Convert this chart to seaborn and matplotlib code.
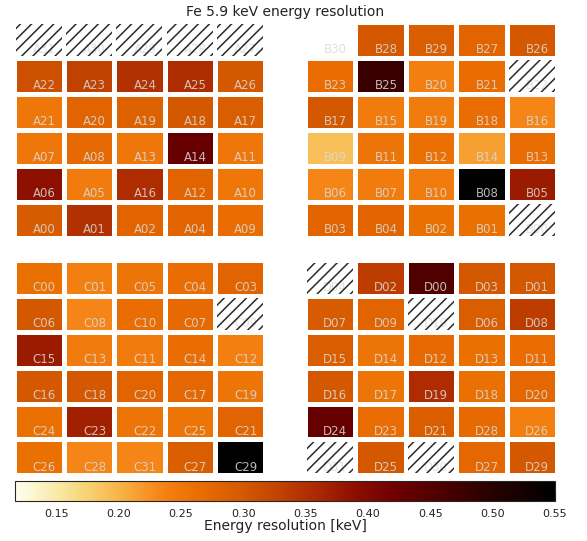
import numpy as np
import pandas as pd
import matplotlib
matplotlib.use("Agg")
import matplotlib.pyplot as plt
import seaborn as sns
from matplotlib.patches import Rectangle
from matplotlib.cm import ScalarMappable
from matplotlib.colors import Normalize, LinearSegmentedColormap
from matplotlib.ticker import MultipleLocator

nan = np.nan

# ---- data (rows top -> bottom, columns left -> right) ----
labels_A = [["A31", "A30", "A29", "A28", "A27"],
            ["A22", "A23", "A24", "A25", "A26"],
            ["A21", "A20", "A19", "A18", "A17"],
            ["A07", "A08", "A13", "A14", "A11"],
            ["A06", "A05", "A16", "A12", "A10"],
            ["A00", "A01", "A02", "A04", "A09"]]
values_A = [[nan, nan, nan, nan, nan],
            [0.31, 0.33, 0.35, 0.355, 0.30],
            [0.25, 0.28, 0.285, 0.30, 0.29],
            [0.25, 0.27, 0.25, 0.43, 0.25],
            [0.39, 0.245, 0.355, 0.28, 0.25],
            [0.295, 0.35, 0.28, 0.28, 0.265]]

labels_B = [["B30", "B28", "B29", "B27", "B26"],
            ["B23", "B25", "B20", "B21", "B22"],
            ["B17", "B15", "B19", "B18", "B16"],
            ["B09", "B11", "B12", "B14", "B13"],
            ["B06", "B07", "B10", "B08", "B05"],
            ["B03", "B04", "B02", "B01", "B00"]]
values_B = [[0.11, 0.30, 0.29, 0.28, 0.30],
            [0.265, 0.48, 0.24, 0.265, nan],
            [0.30, 0.245, 0.245, 0.265, 0.235],
            [0.19, 0.255, 0.26, 0.215, 0.265],
            [0.235, 0.245, 0.245, 0.56, 0.375],
            [0.28, 0.28, 0.26, 0.26, nan]]

labels_C = [["C00", "C01", "C05", "C04", "C03"],
            ["C06", "C08", "C10", "C07", "C09"],
            ["C15", "C13", "C11", "C14", "C12"],
            ["C16", "C18", "C20", "C17", "C19"],
            ["C24", "C23", "C22", "C25", "C21"],
            ["C26", "C28", "C31", "C27", "C29"]]
values_C = [[0.26, 0.24, 0.255, 0.265, 0.28],
            [0.30, 0.235, 0.265, 0.27, nan],
            [0.375, 0.245, 0.245, 0.265, 0.24],
            [0.30, 0.30, 0.28, 0.275, 0.255],
            [0.26, 0.37, 0.255, 0.255, 0.28],
            [0.26, 0.235, 0.235, 0.29, 0.56]]

labels_D = [["D04", "D02", "D00", "D03", "D01"],
            ["D07", "D09", "D10", "D06", "D08"],
            ["D15", "D14", "D12", "D13", "D11"],
            ["D16", "D17", "D19", "D18", "D20"],
            ["D24", "D23", "D21", "D28", "D26"],
            ["D31", "D25", "D30", "D27", "D29"]]
values_D = [[nan, 0.335, 0.455, 0.30, 0.30],
            [0.295, 0.28, nan, 0.29, 0.335],
            [0.29, 0.255, 0.27, 0.26, 0.265],
            [0.30, 0.255, 0.355, 0.26, 0.275],
            [0.43, 0.265, 0.29, 0.27, 0.24],
            [nan, 0.30, nan, 0.275, 0.30]]

vmin, vmax = 0.117, 0.55
cbar_ticks = [0.15, 0.20, 0.25, 0.30, 0.35, 0.40, 0.45, 0.50, 0.55]
title = "Fe 5.9 keV energy resolution"
cbar_label = "Energy resolution [keV]"

# ---- colour map (white -> yellow -> orange -> dark red -> black) ----
cmap_anchor_vals = [0.117, 0.13, 0.15, 0.17, 0.20, 0.22, 0.24, 0.26, 0.28,
                    0.30, 0.33, 0.36, 0.39, 0.42, 0.45, 0.50, 0.55]
cmap_anchor_rgb = [(255, 254, 238), (252, 246, 210), (249, 233, 168),
                   (247, 215, 122), (248, 180, 72), (248, 150, 40),
                   (243, 126, 15), (235, 112, 2), (225, 100, 0),
                   (212, 88, 0), (192, 65, 0), (170, 40, 0), (140, 15, 0),
                   (112, 0, 0), (85, 0, 0), (40, 0, 0), (0, 0, 0)]
cmap = LinearSegmentedColormap.from_list(
    "fe_res",
    [((v - vmin) / (vmax - vmin), tuple(c / 255 for c in rgb))
     for v, rgb in zip(cmap_anchor_vals, cmap_anchor_rgb)])
cmap.set_over("black")
cmap.set_under("white")

# ---- layout ----
sns.set_style("white")
plt.rcParams["font.family"] = ["DejaVu Sans"]
plt.rcParams["hatch.linewidth"] = 1.1
plt.rcParams["hatch.color"] = "#2a2a2a"

W, H = 587, 541
fig = plt.figure(figsize=(W / 100, H / 100), dpi=100)


def rect(l, t, r, b):
    return [l / W, 1 - b / H, (r - l) / W, (b - t) / H]


quads = [
    (values_A, labels_A, (13.5, 22, 265.2, 238)),
    (values_B, labels_B, (304.8, 22, 557.2, 238)),
    (values_C, labels_C, (13.5, 260.3, 265.2, 475.3)),
    (values_D, labels_D, (304.8, 260.3, 557.2, 475.3)),
]

lw_pt = 3.25
for vals, labs, box in quads:
    ax = fig.add_axes(rect(*box))
    df = pd.DataFrame(vals)
    sns.heatmap(df, ax=ax, cmap=cmap, vmin=vmin, vmax=vmax, cbar=False,
                linewidths=lw_pt, linecolor="white",
                xticklabels=False, yticklabels=False)
    ax.set_xlim(0, 5)
    ax.set_ylim(6, 0)
    pw = (box[2] - box[0]) / 5.0
    ph = (box[3] - box[1]) / 6.0
    gx = (lw_pt * 100 / 72 / 2) / pw
    gy = (lw_pt * 100 / 72 / 2) / ph
    for r in range(6):
        for c in range(5):
            ax.text(c + 1 - 0.16, r + 1 - 0.13, labs[r][c], ha="right",
                    va="baseline", fontsize=8.5, color="#dadada", alpha=0.85,
                    zorder=3)
            if np.isnan(vals[r][c]):
                ax.add_patch(Rectangle((c + gx, r + gy), 1 - 2 * gx, 1 - 2 * gy,
                                       facecolor="none", edgecolor="#2a2a2a",
                                       linewidth=0, hatch="///", zorder=4))

cax = fig.add_axes(rect(15, 481, 555, 500.5))
sm = ScalarMappable(norm=Normalize(vmin=vmin, vmax=vmax), cmap=cmap)
cb = fig.colorbar(sm, cax=cax, orientation="horizontal")
cb.set_ticks(cbar_ticks)
cb.ax.xaxis.set_minor_locator(MultipleLocator(0.01))
cb.ax.tick_params(which="major", direction="in", length=5.5, width=0.8,
                  labelsize=8, colors="#222222", pad=6)
cb.ax.tick_params(which="minor", direction="in", length=2.5, width=0.6,
                  colors="#222222")
cb.ax.set_xticklabels([f"{t:.2f}" for t in cbar_ticks])
cb.outline.set_linewidth(0.8)
cb.set_label(cbar_label, fontsize=10, color="#222222", labelpad=0)

fig.text(285 / W, 1 - 12 / H, title, ha="center", va="center", fontsize=10,
         color="#222222")

fig.savefig("out.png", dpi=100)
